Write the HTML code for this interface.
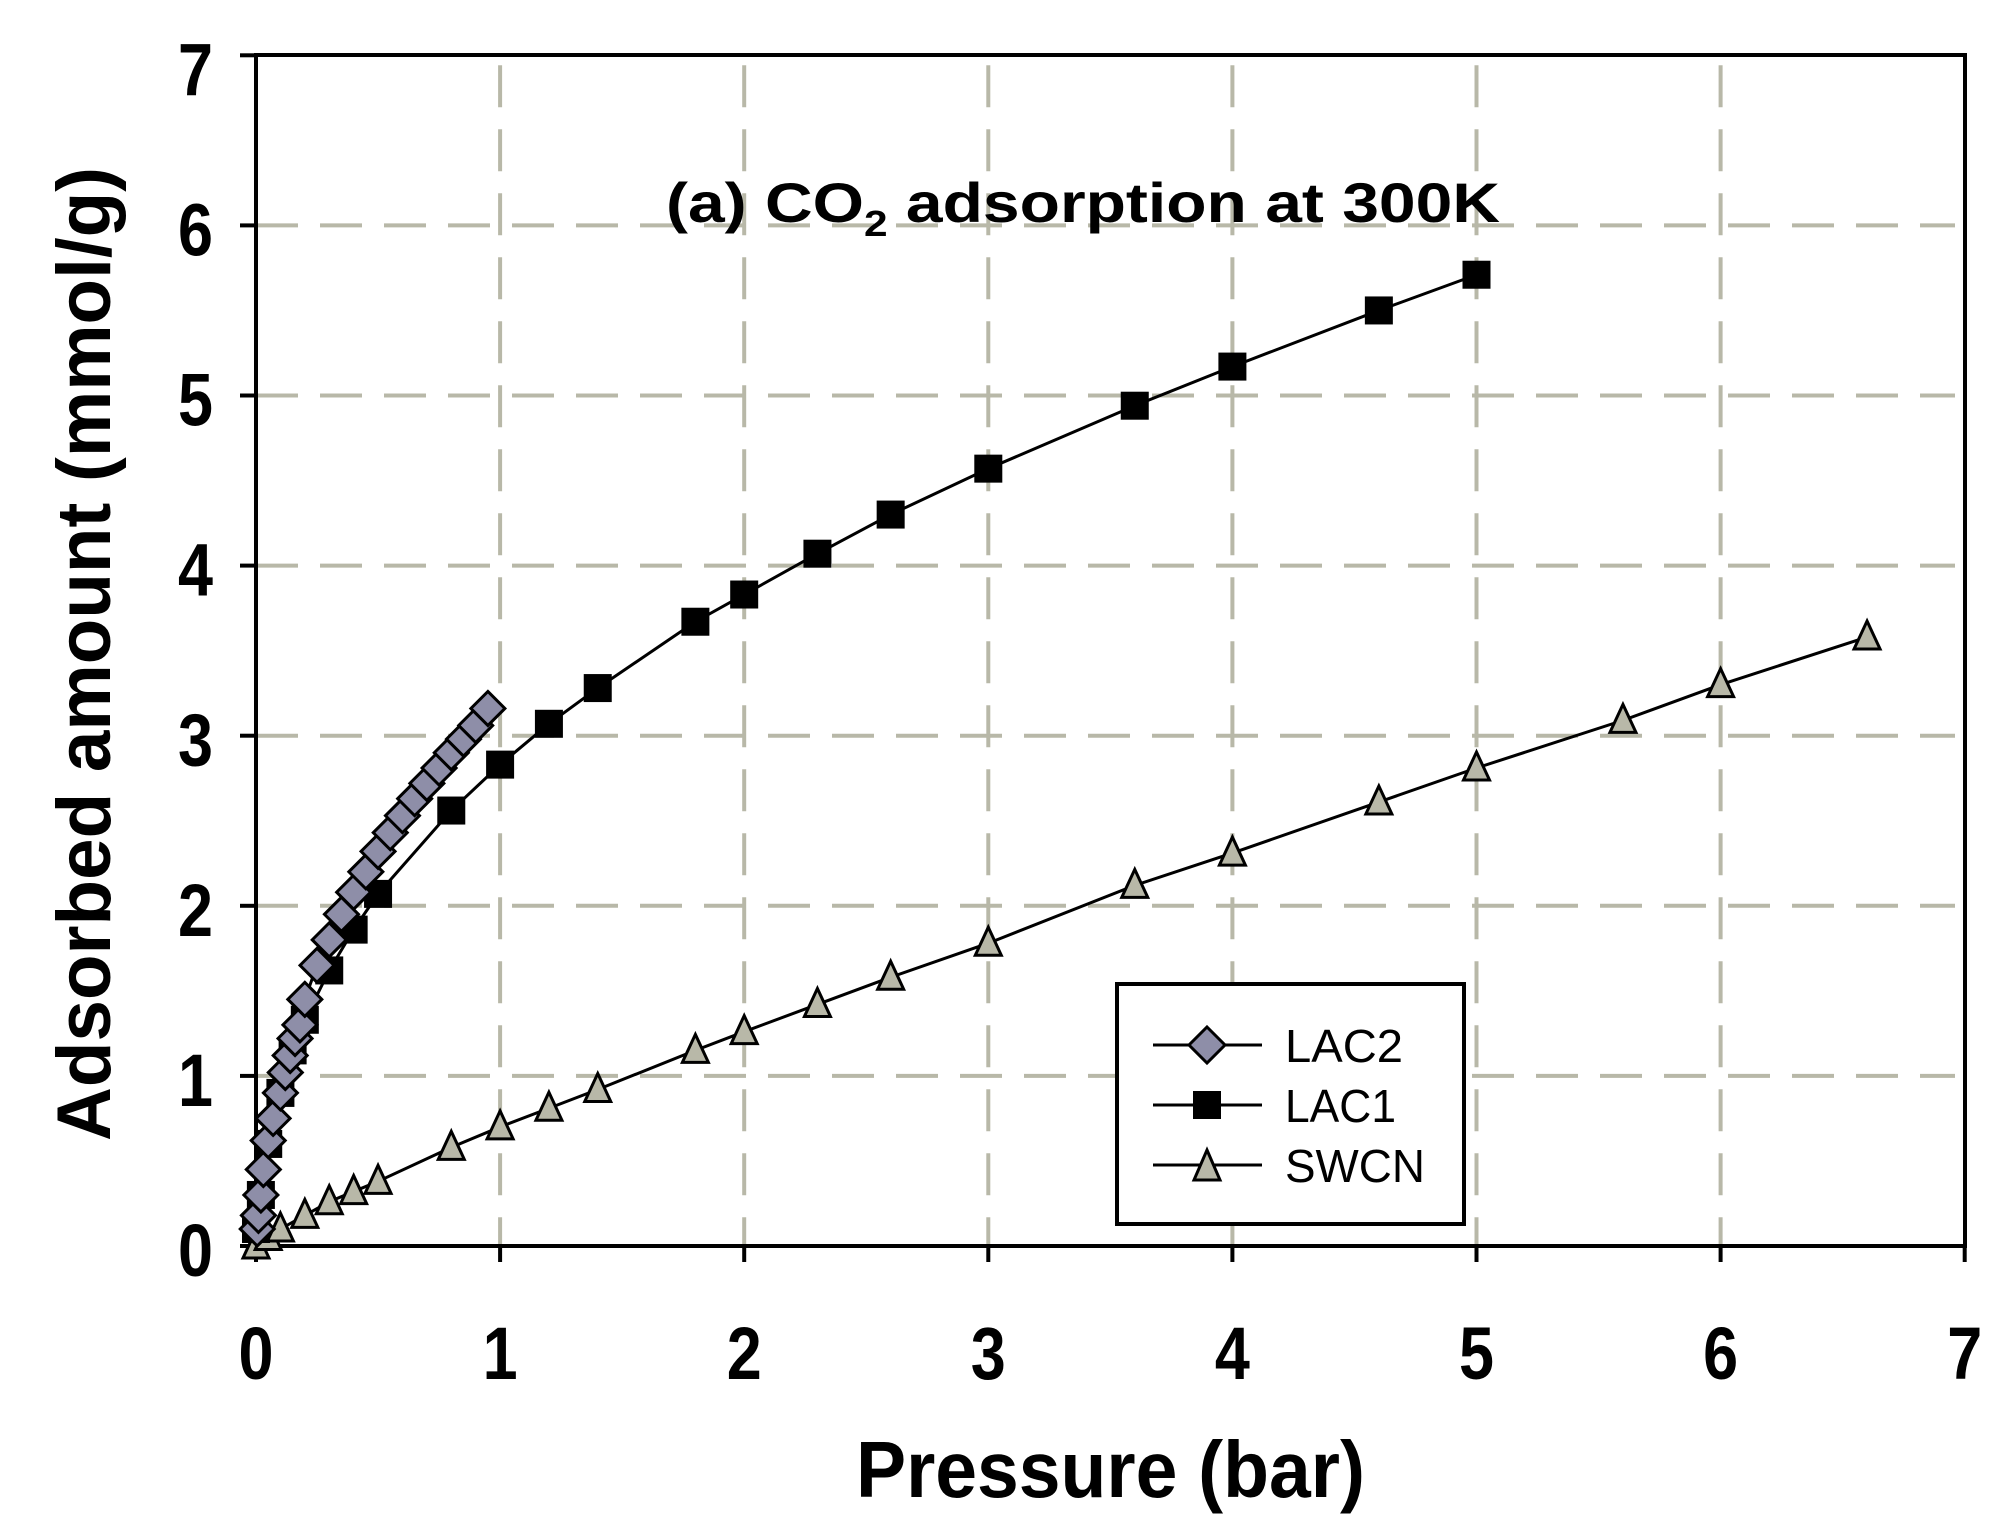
<!DOCTYPE html>
<html><head><meta charset="utf-8"><style>
html,body{margin:0;padding:0;background:#fff;}
svg{display:block;font-family:"Liberation Sans",Arial,sans-serif;}
</style></head><body>
<svg id="s" width="2003" height="1519" viewBox="0 0 2003 1519" xmlns="http://www.w3.org/2000/svg">
<rect width="2003" height="1519" fill="#fff"/>
<g id="grid" stroke="#b8b8a8" stroke-width="4" stroke-dasharray="42,22"></g>
<g id="axes" stroke="#000" stroke-width="4" fill="none">
<rect x="256" y="55" width="1709" height="1191"/>
</g>
<g id="ticks" stroke="#000" stroke-width="4"></g>
<g id="labels" font-weight="bold" font-size="74" fill="#000"></g>
<g id="data"></g>
<text x="666" y="222" font-size="56" font-weight="bold" textLength="834" lengthAdjust="spacingAndGlyphs">(a) CO<tspan font-size="36" dy="14">2</tspan><tspan dy="-14"> adsorption at 300K</tspan></text>
<text x="856" y="1497" font-size="80" font-weight="bold" textLength="509" lengthAdjust="spacingAndGlyphs">Pressure (bar)</text>
<text transform="translate(110,1141) rotate(-90)" font-size="76" font-weight="bold" textLength="974" lengthAdjust="spacingAndGlyphs">Adsorbed amount (mmol/g)</text>
<g>
<rect x="1117" y="984" width="347" height="240" fill="#fff" stroke="#000" stroke-width="4"/>
<g stroke="#000" stroke-width="3">
<line x1="1153" y1="1045" x2="1262" y2="1045"/>
<line x1="1153" y1="1105" x2="1262" y2="1105"/>
<line x1="1153" y1="1165" x2="1262" y2="1165"/>
</g>
<polygon points="1207,1027 1225,1045 1207,1063 1189,1045" fill="#8e8ea8" stroke="#000" stroke-width="3"/>
<rect x="1193" y="1091" width="28" height="28" fill="#000"/>
<polygon points="1207,1150 1220,1180 1194,1180" fill="#b8b8a8" stroke="#000" stroke-width="3"/>
<g font-size="46" fill="#000">
<text x="1285" y="1062" textLength="118" lengthAdjust="spacingAndGlyphs">LAC2</text>
<text x="1285" y="1122" textLength="111" lengthAdjust="spacingAndGlyphs">LAC1</text>
<text x="1285" y="1182" textLength="140" lengthAdjust="spacingAndGlyphs">SWCN</text>
</g>
</g>
</svg>
<script>
var X0=256,Y0=1246,UX=244.1,UY=170.1;
function px(x){return X0+x*UX;} function py(y){return Y0-y*UY;}
var NS="http://www.w3.org/2000/svg";
function el(p,t,a){var e=document.createElementNS(NS,t);for(var k in a)e.setAttribute(k,a[k]);p.appendChild(e);return e;}
var g=document.getElementById('grid'),tk=document.getElementById('ticks'),lb=document.getElementById('labels'),d=document.getElementById('data');
for(var i=1;i<7;i++){
 el(g,'line',{x1:px(i),y1:py(7)+10,x2:px(i),y2:Y0});
 el(g,'line',{x1:X0,y1:py(i),x2:1965-10,y2:py(i)});
}
for(var i=0;i<=7;i++){
 el(tk,'line',{x1:px(i),y1:Y0,x2:px(i),y2:Y0+16});
 el(tk,'line',{x1:X0-16,y1:py(i),x2:X0,y2:py(i)});
 var t=el(lb,'text',{transform:'translate('+px(i)+',1379) scale(0.85,1)','text-anchor':'middle'});t.textContent=i;
 var t2=el(lb,'text',{transform:'translate(213,'+(py(i)+(i==7?40:30))+') scale(0.85,1)','text-anchor':'end'});t2.textContent=i;
}
var sw=[[0,0],[0.05,0.05],[0.1,0.1],[0.2,0.18],[0.3,0.26],[0.4,0.32],[0.5,0.38],[0.8,0.58],[1.0,0.7],[1.2,0.81],[1.4,0.92],[1.8,1.15],[2.0,1.26],[2.3,1.42],[2.6,1.58],[3.0,1.78],[3.6,2.12],[4.0,2.31],[4.6,2.61],[5.0,2.81],[5.6,3.09],[6.0,3.3],[6.6,3.58]];
var l1=[[0,0.1],[0.02,0.3],[0.05,0.6],[0.1,0.9],[0.15,1.15],[0.2,1.33],[0.3,1.62],[0.4,1.86],[0.5,2.07],[0.8,2.56],[1.0,2.83],[1.2,3.07],[1.4,3.28],[1.8,3.67],[2.0,3.83],[2.3,4.07],[2.6,4.3],[3.0,4.57],[3.6,4.94],[4.0,5.17],[4.6,5.5],[5.0,5.71]];
var l2=[[0.005,0.1],[0.01,0.18],[0.02,0.3],[0.03,0.45],[0.05,0.62],[0.07,0.75],[0.1,0.9],[0.12,1.02],[0.14,1.12],[0.16,1.22],[0.18,1.3],[0.2,1.45],[0.25,1.65],[0.3,1.8],[0.35,1.95],[0.4,2.08],[0.45,2.2],[0.5,2.32],[0.55,2.43],[0.6,2.53],[0.65,2.63],[0.7,2.72],[0.75,2.81],[0.8,2.9],[0.85,2.98],[0.9,3.06],[0.95,3.16]];
function line(a){el(d,'polyline',{points:a.map(function(p){return px(p[0])+','+py(p[1]);}).join(' '),fill:'none',stroke:'#000','stroke-width':3});}
line(sw);line(l1);line(l2);
sw.forEach(function(p){var x=px(p[0]),y=py(p[1]);el(d,'polygon',{points:x+','+(y-16)+' '+(x+13)+','+(y+12)+' '+(x-13)+','+(y+12),fill:'#b8b8a8',stroke:'#000','stroke-width':3});});
l1.forEach(function(p){var x=px(p[0]),y=py(p[1]);el(d,'rect',{x:x-14,y:y-14,width:28,height:28,fill:'#000'});});
l2.forEach(function(p){var x=px(p[0]),y=py(p[1]);el(d,'polygon',{points:x+','+(y-17)+' '+(x+17)+','+y+' '+x+','+(y+17)+' '+(x-17)+','+y,fill:'#8e8ea8',stroke:'#000','stroke-width':3});});
</script>
</body></html>
